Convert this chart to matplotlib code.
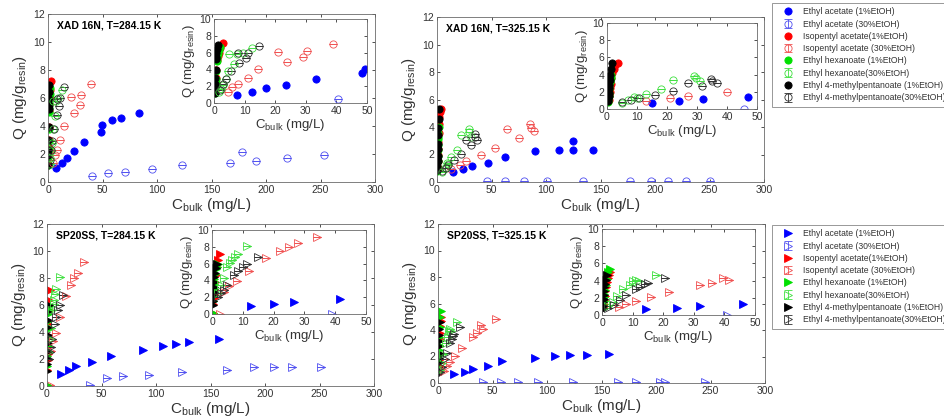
import matplotlib
matplotlib.use('Agg')
import matplotlib.pyplot as plt

plt.rcParams['font.family'] = ['Liberation Sans', 'DejaVu Sans']
plt.rcParams['mathtext.fontset'] = 'custom'
plt.rcParams['mathtext.rm'] = 'Liberation Sans'
plt.rcParams['mathtext.it'] = 'Liberation Sans'
plt.rcParams['mathtext.default'] = 'regular'

W, H = 944, 420

labels = ['Ethyl acetate (1%EtOH)', 'Ethyl acetate (30%EtOH)',
          'Isopentyl acetate(1%EtOH)', 'Isopentyl acetate (30%EtOH)',
          'Ethyl hexanoate (1%EtOH)', 'Ethyl hexanoate(30%EtOH)',
          'Ethyl 4-methylpentanoate (1%EtOH)', 'Ethyl 4-methylpentanoate(30%EtOH)']
titles = ['XAD 16N, T=284.15 K', 'XAD 16N, T=325.15 K',
          'SP20SS, T=284.15 K', 'SP20SS, T=325.15 K']

# series order: EA 1%, EA 30%, IA 1%, IA 30%, EH 1%, EH 30%, E4MP 1%, E4MP 30%
xad284_x = [
    [7.6, 12.5, 17, 23.5, 33.2, 48.3, 49.2, 58.7, 67.3, 83.8],
    [40.5, 55, 71, 95, 123, 167, 178, 191, 219, 253],
    [0.3, 0.4, 0.5, 0.6, 0.8, 1.0, 1.2, 1.5, 2.0, 3.0],
    [4.5, 6, 8, 11, 14.5, 24, 21, 29, 30.5, 39],
    [0.3, 0.4, 0.5, 0.6, 0.7, 0.9, 1.0, 1.2, 1.5, 1.8],
    [1.5, 2.2, 3.0, 4.0, 4.5, 6.5, 5.0, 7.5, 9.5, 12.5],
    [0.2, 0.3, 0.3, 0.4, 0.5, 0.6, 0.7, 0.8, 1.0, 1.2],
    [1.8, 2.8, 3.8, 5.5, 8.2, 10.5, 7.8, 11.2, 14.8],
]
xad284_y = [
    [1.0, 1.35, 1.75, 2.2, 2.85, 3.6, 4.1, 4.4, 4.6, 4.95],
    [0.45, 0.62, 0.72, 0.9, 1.2, 1.35, 2.15, 1.5, 1.75, 1.9],
    [1.3, 2.1, 2.4, 3.0, 3.9, 5.1, 5.6, 6.0, 6.6, 7.2],
    [1.35, 1.9, 2.3, 3.0, 4.0, 4.9, 6.05, 5.5, 6.2, 7.0],
    [1.2, 1.8, 2.3, 2.9, 3.8, 5.0, 5.3, 5.8, 6.3, 6.7],
    [1.3, 1.7, 2.2, 2.8, 3.8, 4.7, 5.8, 5.8, 6.0, 6.6],
    [1.2, 1.9, 2.3, 3.0, 3.9, 5.2, 5.5, 5.9, 6.4, 6.9],
    [1.6, 2.3, 2.9, 3.8, 4.8, 5.4, 5.9, 6.0, 6.8],
]

xad325_x = [
    [15, 24, 32, 47, 62, 90, 112, 125, 125, 143],
    [45.5, 62, 80, 101, 134, 177, 196, 212, 228, 250],
    [0.5, 0.7, 0.9, 1.0, 1.2, 1.4, 1.8, 2.2, 2.8, 3.5],
    [13, 21, 27, 40, 53, 64, 75, 85.5, 86, 89],
    [0.3, 0.4, 0.5, 0.6, 0.7, 0.8, 0.9, 1.0, 1.2, 1.4],
    [5, 7, 9, 10, 13, 18, 22, 29, 29.5, 31],
    [0.3, 0.4, 0.5, 0.6, 0.7, 0.8, 0.9, 1.1, 1.4, 1.8],
    [5, 8, 10.5, 16, 22, 27, 31.5, 34.5, 35, 36.5],
]
xad325_y = [
    [0.75, 0.95, 1.15, 1.4, 1.85, 2.25, 2.3, 2.95, 2.3, 2.35],
    [0.05, 0.05, 0.05, 0.05, 0.05, 0.05, 0.05, 0.05, 0.05, 0.1],
    [1.0, 1.5, 2.0, 2.4, 2.9, 3.6, 4.2, 4.7, 5.1, 5.3],
    [0.95, 1.25, 1.55, 1.95, 2.5, 3.85, 3.2, 4.2, 3.9, 3.7],
    [0.8, 1.1, 1.5, 1.9, 2.3, 2.7, 3.1, 3.3, 3.6, 4.0],
    [0.7, 1.0, 1.35, 1.3, 1.8, 2.3, 3.4, 3.85, 3.65, 3.3],
    [0.9, 1.2, 1.5, 1.9, 2.4, 2.8, 3.4, 3.9, 4.6, 5.3],
    [0.8, 1.0, 1.25, 1.6, 2.05, 3.05, 2.7, 3.5, 3.3, 3.05],
]

sp284_x = [
    [12.5, 20, 26.5, 41.5, 58.5, 88, 106.5, 118.5, 130, 158],
    [39, 55, 70, 94, 124, 165, 190, 208, 225, 251],
    [0.2, 0.3, 0.5, 0.6, 0.8, 1.0, 1.2, 1.5, 2.0, 2.5],
    [2.5, 4, 5.5, 8, 12, 17.5, 22, 25, 28, 34],
    [0.2, 0.3, 0.4, 0.5, 0.6, 0.8, 1.0, 1.2, 1.5, 2.0],
    [2, 3, 4, 5, 6, 6.5, 7.5, 8.5, 11.5],
    [0.2, 0.3, 0.4, 0.5, 0.6, 0.7, 0.8, 1.0, 1.2, 1.5],
    [2, 3, 4, 5, 7, 8.5, 10, 11.5, 15],
]
sp284_y = [
    [0.9, 1.18, 1.45, 1.8, 2.22, 2.65, 3.0, 3.12, 3.28, 3.5],
    [0.05, 0.62, 0.72, 0.85, 1.05, 1.2, 1.4, 1.42, 1.42, 1.42],
    [0.1, 1.2, 1.9, 2.4, 2.9, 3.8, 4.6, 5.6, 6.4, 7.1],
    [0.05, 2.6, 3.3, 3.9, 5.1, 6.65, 7.5, 8.0, 8.4, 9.2],
    [0.1, 1.5, 2.2, 3.0, 3.6, 4.2, 4.8, 5.3, 5.6, 5.9],
    [2.5, 3.5, 4.3, 5.6, 6.1, 6.4, 6.8, 7.2, 8.1],
    [1.1, 1.6, 2.1, 2.6, 3.2, 3.8, 4.4, 4.9, 5.5, 6.0],
    [2.0, 2.5, 2.9, 3.5, 4.6, 5.1, 5.6, 6.0, 6.75],
]

sp325_x = [
    [14.5, 24.5, 32, 46, 59, 89, 107, 121, 137, 157],
    [41, 58, 73, 92, 124, 165, 182, 204, 208, 245],
    [0.4, 0.5, 0.7, 0.9, 1.1, 1.4, 1.7, 2.0, 2.4, 2.7],
    [5.5, 8, 11, 16, 22, 32, 36, 39.5, 41.5, 53],
    [0.3, 0.4, 0.5, 0.6, 0.8, 1.0, 1.2, 1.5, 2.0, 2.5],
    [2, 3.5, 5, 7, 9, 10, 11, 12, 17.5],
    [0.2, 0.3, 0.4, 0.5, 0.6, 0.7, 0.8, 1.0, 1.2, 1.5],
    [2, 4, 6, 8, 11, 12.5, 14, 15, 20.5],
]
sp325_y = [
    [0.65, 0.85, 1.05, 1.27, 1.65, 1.85, 2.02, 2.12, 2.12, 2.2],
    [0.05, 0.05, 0.05, 0.05, 0.05, 0.05, 0.05, 0.05, 0.1, 0.05],
    [0.9, 1.3, 1.7, 2.2, 2.8, 3.3, 3.8, 4.3, 4.7, 5.0],
    [0.9, 1.3, 1.6, 2.05, 2.65, 3.45, 3.75, 4.35, 4.1, 4.8],
    [0.8, 1.2, 1.6, 2.1, 2.5, 2.9, 3.5, 4.2, 5.0, 5.4],
    [1.0, 1.5, 2.2, 3.0, 3.5, 3.9, 4.05, 3.9, 4.6],
    [0.7, 1.1, 1.5, 1.9, 2.3, 2.8, 3.2, 3.6, 4.1, 4.6],
    [0.8, 1.2, 1.8, 2.3, 3.0, 3.3, 3.55, 3.7, 4.25],
]

fill_colors = ['#0000ff', '#ff0000', '#00e000', '#000000']
open_colors = ['#5050f0', '#f05050', '#40e040', '#303030']
frame = '#6a6a6a'


def px_axes(fig, l, t, r, b):
    return fig.add_axes([l / W, 1 - b / H, (r - l) / W, (b - t) / H])


def style(ax, xlim, ylim, xt, yt, fs):
    ax.set_xlim(*xlim)
    ax.set_ylim(*ylim)
    ax.set_xticks(xt)
    ax.set_yticks(yt)
    ax.tick_params(direction='in', length=2.5, width=0.6, colors='#333333',
                   labelsize=fs, pad=2, top=True, right=True)
    for sp in ax.spines.values():
        sp.set_color(frame)
        sp.set_linewidth(0.6)


def draw_series(ax, xs, ys, marker, ms):
    handles = []
    for i in range(8):
        c = i // 2
        if i % 2 == 0:
            h, = ax.plot(xs[i], ys[i], linestyle='none', marker=marker, ms=ms,
                         mfc=fill_colors[c], mec=fill_colors[c], mew=0.6)
        else:
            h = ax.errorbar(xs[i], ys[i], yerr=[0] * len(ys[i]), fmt=marker,
                            ms=ms, mfc='none', mec=open_colors[c], mew=0.6,
                            ecolor=open_colors[c], elinewidth=0.6,
                            capsize=ms / 2, capthick=0.6)
        handles.append(h)
    return handles


def panel(fig, main_box, inset_box, xs, ys, marker, title):
    ax = px_axes(fig, *main_box)
    hs = draw_series(ax, xs, ys, marker, 5.2)
    style(ax, (0, 300), (0, 12), range(0, 301, 50), range(0, 13, 2), 7.5)
    ax.set_xlabel('C$_{bulk}$ (mg/L)', fontsize=11, labelpad=1, color='#333333')
    ax.set_ylabel('Q (mg/g$_{resin}$)', fontsize=11, labelpad=3, color='#333333')
    ax.text(0.028, 0.93, title, transform=ax.transAxes, fontsize=7.5,
            fontweight='bold', va='center', ha='left')

    ins = px_axes(fig, *inset_box)
    draw_series(ins, xs, ys, marker, 5.2)
    style(ins, (0, 50), (0, 10), range(0, 51, 10), range(0, 11, 2), 7.5)
    ins.set_xlabel('C$_{bulk}$ (mg/L)', fontsize=9.5, labelpad=1, color='#333333')
    ins.set_ylabel('Q (mg/g$_{resin}$)', fontsize=9.5, labelpad=2, color='#333333')
    return hs


fig = plt.figure(figsize=(W / 100, H / 100), dpi=100)

h_circ = panel(fig, (48, 14, 375, 182), (214, 19, 367, 103),
               xad284_x, xad284_y, 'o', titles[0])
panel(fig, (437, 17, 764, 182), (607, 23, 757, 109),
      xad325_x, xad325_y, 'o', titles[1])
h_tri = panel(fig, (47, 224, 374, 386), (212, 230, 366, 314),
              sp284_x, sp284_y, '>', titles[2])
panel(fig, (438, 224, 765, 383), (602, 229, 755, 315),
      sp325_x, sp325_y, '>', titles[3])

for hs, top in ((h_circ, 3), (h_tri, 225)):
    leg = fig.legend(hs, labels, loc='upper left',
                     bbox_to_anchor=(772 / W, 1 - top / H), fontsize=6.2,
                     frameon=True, fancybox=False, borderpad=0.5,
                     labelspacing=0.38, handlelength=2.6, handletextpad=0.5,
                     borderaxespad=0)
    leg.get_frame().set_edgecolor(frame)
    leg.get_frame().set_linewidth(0.6)
    for t in leg.get_texts():
        t.set_color('#333333')

fig.savefig('out.png', dpi=100)
